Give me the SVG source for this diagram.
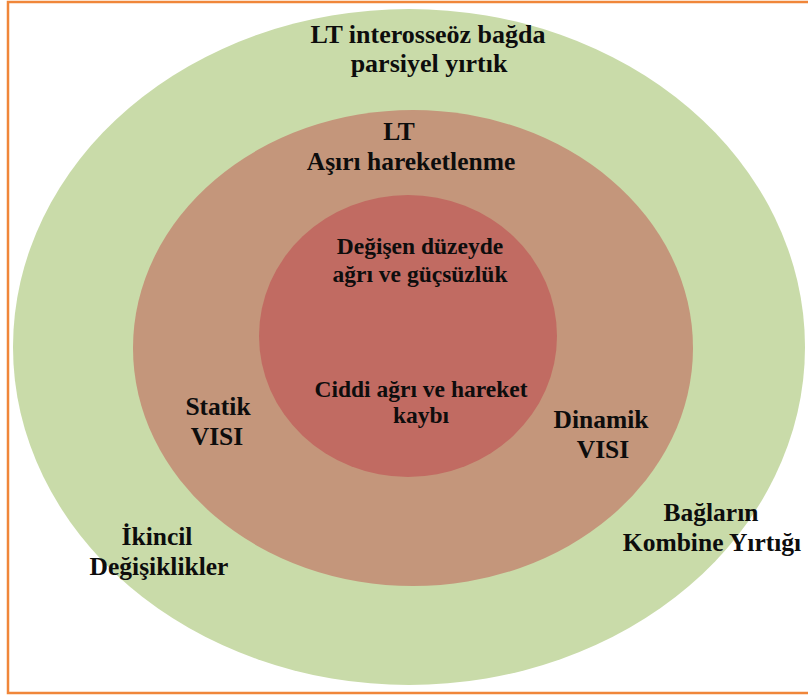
<svg xmlns="http://www.w3.org/2000/svg" width="808" height="695" viewBox="0 0 808 695">
<style>
text{font-family:'Liberation Serif','Times New Roman',Times,serif;font-weight:700;fill:#0d0d0d;text-anchor:middle}
.l{font-size:26px}
.m{font-size:25.5px}
.s{font-size:23.5px}
</style>
<rect x="0" y="0" width="808" height="695" fill="#ffffff"/>
<path d="M808 2 H8 V693 H808" fill="none" stroke="#F0863A" stroke-width="2.5"/>
<g id="outer">
<ellipse cx="409" cy="347" rx="396" ry="338" fill="#C9DBA9"/>
<text class="l" x="428" y="43">LT interosseöz bağda</text>
<text class="l" x="429" y="72">parsiyel yırtık</text>
<text class="m" x="157" y="545">İkincil</text>
<text class="m" x="159" y="575">Değişiklikler</text>
<text class="m" x="711" y="521">Bağların</text>
<text class="m" x="712" y="551">Kombine Yırtığı</text>
</g>
<g id="middle">
<ellipse cx="413" cy="348" rx="280" ry="238" fill="#C4967B"/>
<text class="m" x="399" y="140">LT</text>
<text class="m" x="411" y="170">Aşırı hareketlenme</text>
<text class="m" x="218" y="415">Statik</text>
<text class="m" x="217" y="445">VISI</text>
<text class="m" x="601" y="428">Dinamik</text>
<text class="m" x="603" y="458">VISI</text>
</g>
<g id="inner">
<ellipse cx="408" cy="336" rx="149" ry="141" fill="#C16B62"/>
<text class="s" x="420" y="254">Değişen düzeyde</text>
<text class="s" x="420" y="282">ağrı ve güçsüzlük</text>
<text class="s" x="421" y="397">Ciddi ağrı ve hareket</text>
<text class="s" x="421" y="423">kaybı</text>
</g>
<g id="connectors"></g>
</svg>
